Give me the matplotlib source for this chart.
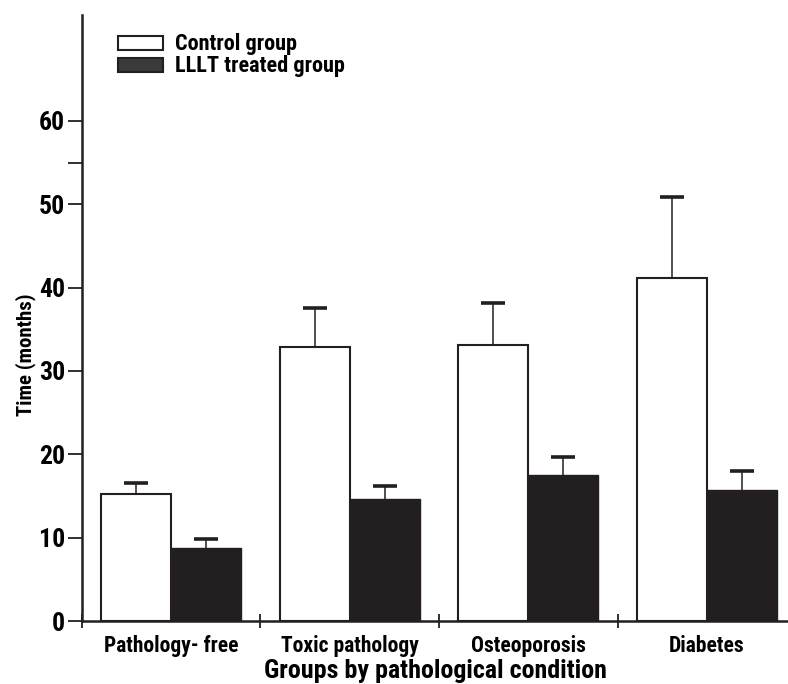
import matplotlib
matplotlib.use("Agg")
import matplotlib.pyplot as plt
from matplotlib import font_manager
import numpy as np
from matplotlib.patches import Patch

names = {f.name for f in font_manager.fontManager.ttflist}
pref = ['Roboto Condensed', 'Archivo Narrow', 'Liberation Sans Narrow', 'Liberation Sans']
chosen = next((p for p in pref if p in names), 'DejaVu Sans')
plt.rcParams['font.family'] = [chosen, 'DejaVu Sans']
plt.rcParams['font.weight'] = 'bold'

categories = ["Pathology- free", "Toxic pathology", "Osteoporosis", "Diabetes"]
control_mean = [15.2, 32.9, 33.1, 41.2]
control_err = [1.4, 4.6, 5.0, 9.7]
treated_mean = [8.8, 14.6, 17.5, 15.7]
treated_err = [1.1, 1.6, 2.2, 2.3]
series_labels = ["Control group", "LLLT treated group"]
yticks = [0, 10, 20, 30, 40, 50, 60]

fig = plt.figure(figsize=(7.88, 6.84), dpi=100)
ax = fig.add_axes([0.104, 0.092, 0.896, 0.886])

x = np.arange(len(categories)) + 0.5
w = 0.392
dark = '#231f20'

ax.bar(x - w/2, control_mean, width=w, color='white', edgecolor=dark, linewidth=1.5, zorder=2)
ax.bar(x + w/2, treated_mean, width=w, color=dark, edgecolor=dark, linewidth=1.0, zorder=2)
zeros = [0]*len(categories)
for xs, m, e in [(x - w/2, control_mean, control_err), (x + w/2, treated_mean, treated_err)]:
    eb = ax.errorbar(xs, m, yerr=[zeros, e], fmt='none', ecolor=dark,
                     elinewidth=1.1, capsize=8.3, capthick=2.6, zorder=1)
    caps = eb[1]
    if len(caps) == 2:
        caps[0].set_visible(False)

ax.set_xlim(0, 3.955)
ax.set_ylim(0, 72.7)

for s in ['top', 'right']:
    ax.spines[s].set_visible(False)
for s in ['left', 'bottom']:
    ax.spines[s].set_linewidth(1.8)
    ax.spines[s].set_color(dark)

ax.set_yticks(yticks)
ax.set_yticklabels([str(t) for t in yticks], fontsize=18.5, fontweight='bold')
ax.set_yticks([55], minor=True)
ax.tick_params(axis='y', which='both', direction='out', length=10, width=1.3, color=dark, pad=2)

ax.set_xticks([0, 1, 2, 3])
ax.set_xticklabels([])
ax.tick_params(axis='x', which='major', direction='inout', length=10, width=1.3, color=dark)
ax.set_xticks(x, minor=True)
ax.set_xticklabels(categories, minor=True, fontsize=15.5, fontweight='bold')
ax.tick_params(axis='x', which='minor', length=0, pad=10)

ax.set_xlabel("Groups by pathological condition", fontsize=18.7, fontweight='bold', labelpad=1.5)
ax.set_ylabel("Time (months)", fontsize=15, fontweight='bold')
ax.yaxis.set_label_coords(-0.065, 0.439)

handles = [Patch(facecolor='white', edgecolor=dark, linewidth=1.5),
           Patch(facecolor='#3a3a3a', edgecolor=dark, linewidth=1.5)]
ax.legend(handles, series_labels, loc='upper left', bbox_to_anchor=(0.0354, 0.988),
          frameon=False, borderpad=0, labelspacing=0.0, handletextpad=0.55,
          handlelength=2.0, handleheight=0.6, prop={'size': 16, 'weight': 'bold'})

fig.savefig("out.png", dpi=100)
